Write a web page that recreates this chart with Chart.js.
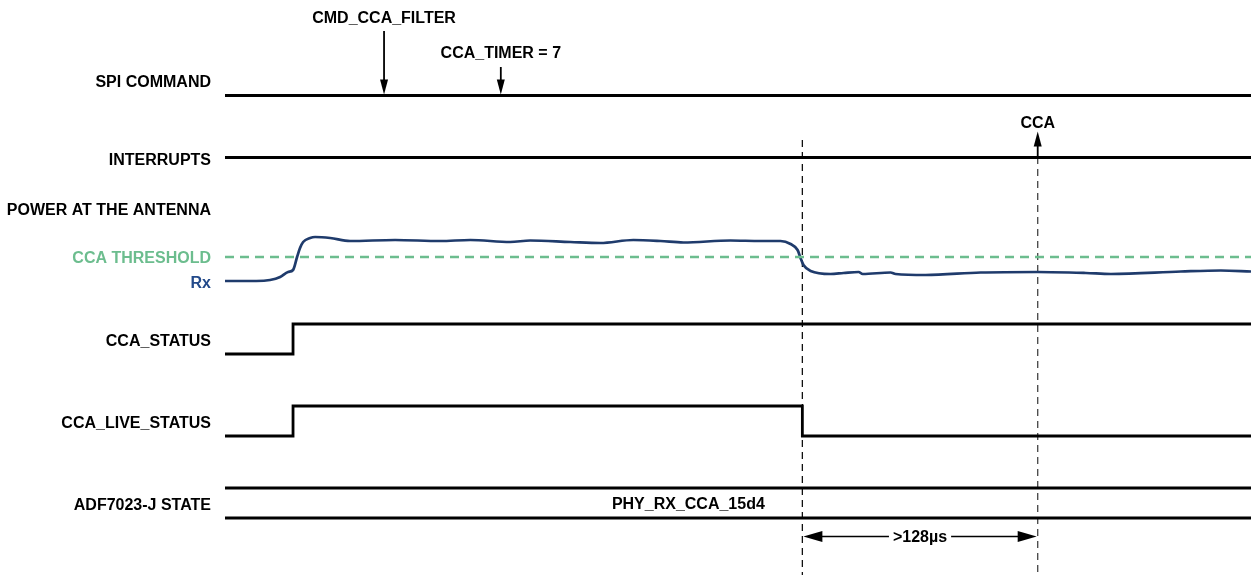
<!DOCTYPE html>
<html>
<head>
<meta charset="utf-8">
<script src="https://cdn.jsdelivr.net/npm/chart.js@4/dist/chart.umd.min.js"></script>
<style>
  html, body { margin: 0; padding: 0; background: #ffffff; }
  #wrap { width: 1251px; height: 575px; }
</style>
</head>
<body>
<div id="wrap"><canvas id="timing" width="1251" height="575"></canvas></div>
<script>
// ---- Signal data (time in µs) ----
const timeSpan = [0, 558];

const rowLabels = ['SPI COMMAND', 'INTERRUPTS', 'POWER AT THE ANTENNA', 'CCA THRESHOLD', 'Rx',
                   'CCA_STATUS', 'CCA_LIVE_STATUS', 'ADF7023-J STATE'];

const spiTimes  = [86.5, 150];
const spiLabels = ['CMD_CCA_FILTER', 'CCA_TIMER = 7'];

const ccaLostTime = 314;      // CCA_LIVE_STATUS falls
const ccaTimeout  = 128;      // µs until the CCA interrupt
const irqTimes  = [ccaLostTime + ccaTimeout];
const irqLabels = ['CCA'];

// received power relative to the CCA threshold (dB)
const rxTimes = [0, 17, 24.5, 30, 34.3, 37, 39.2, 40.8, 42.5, 46.3, 49, 57.2, 68, 92.5, 117,
                 133.4, 155.1, 166, 187.8, 204.1, 222.1, 236.8, 249.3, 274.9, 291.2, 302.1,
                 307.6, 311.4, 313, 314.6, 318.5, 329.3, 336.4, 344.6, 346.8, 362, 364.7, 381,
                 411, 442, 468.2, 481.8, 519.9, 541.6, 558];
const rxPowerDb = [-4.8, -4.8, -4.6, -4.0, -3.0, -2.6, 0, 1.8, 3.0, 3.8, 4.0, 3.8, 3.2, 3.4, 3.2,
                   3.4, 3.0, 3.3, 3.0, 2.8, 3.4, 3.2, 2.9, 3.3, 3.2, 3.2,
                   2.6, 1.4, -0.2, -1.6, -2.8, -3.4, -3.2, -3.0, -3.4, -3.1, -3.4, -3.6,
                   -3.1, -3.0, -3.2, -3.4, -2.9, -2.7, -2.9];
const thresholdDb = 0;

const statusTimes  = [0, 37, 558];
const statusLevels = [0, 1, 1];
const liveTimes    = [0, 37, ccaLostTime, 558];
const liveLevels   = [0, 1, 0, 0];

const stateLabel   = 'PHY_RX_CCA_15d4';
const stateLabelAt = 252;
const timeoutLabel = '>128µs';

// ---- Layout of the lanes (vertical units of the lane axis) ----
const LAYOUT = {
  labelRows: [82.5, 160.5, 210.5, 258.5, 283.5, 341.5, 423.5, 505.5],
  spiLine: 95.5, spiArrowTop: [31, 67], spiTextY: [19, 54],
  irqLine: 157.5, irqArrowTip: 131.5, irqTextY: 124,
  status: { low: 354, high: 324 },
  live:   { low: 436, high: 406 },
  stateTop: 488, stateBottom: 518,
  markerTop: [140, 157], markerBottom: 575,
  timeoutY: 536.5, timeoutTextY: 538
};

const BLACK = '#000000', NAVY = '#1f3b6c', GREEN = '#6cbd8e';
const FONT = "'Liberation Sans', Arial, sans-serif";
const rowColors = ['#000', '#000', '#000', GREEN, '#234a8a', '#000', '#000', '#000'];

const pts = (ts, vs) => ts.map((t, i) => ({ x: t, y: vs[i] }));
const flat = (v) => [{ x: timeSpan[0], y: v }, { x: timeSpan[1], y: v }];
const level = (lane, ts, lv) => ts.map((t, i) => ({ x: t, y: lv[i] ? lane.high : lane.low }));

const sig = { borderColor: BLACK, borderWidth: 2.8, pointRadius: 0, fill: false, yAxisID: 'y' };

const datasets = [
  { ...sig, data: flat(LAYOUT.spiLine) },
  { ...sig, data: flat(LAYOUT.irqLine) },
  { ...sig, data: level(LAYOUT.status, statusTimes, statusLevels), stepped: 'before' },
  { ...sig, data: level(LAYOUT.live, liveTimes, liveLevels), stepped: 'before' },
  { ...sig, data: flat(LAYOUT.stateTop) },
  { ...sig, data: flat(LAYOUT.stateBottom) },
  { borderColor: GREEN, borderWidth: 2.6, borderDash: [9, 6], pointRadius: 0, yAxisID: 'pow',
    data: flat(thresholdDb) },
  { borderColor: NAVY, borderWidth: 2.7, pointRadius: 0, yAxisID: 'pow',
    cubicInterpolationMode: 'monotone', data: pts(rxTimes, rxPowerDb) },
  { borderColor: '#111', borderWidth: 1.3, borderDash: [7, 5], pointRadius: 0, yAxisID: 'y',
    data: [{ x: ccaLostTime, y: LAYOUT.markerTop[0] }, { x: ccaLostTime, y: LAYOUT.markerBottom }] },
  { borderColor: '#444', borderWidth: 1.3, borderDash: [7, 5], pointRadius: 0, yAxisID: 'y',
    data: [{ x: irqTimes[0], y: LAYOUT.markerTop[1] }, { x: irqTimes[0], y: LAYOUT.markerBottom }] }
];

function arrowHead(ctx, tx, ty, dx, dy, len, half) {
  ctx.beginPath();
  ctx.moveTo(tx, ty);
  ctx.lineTo(tx - dx * len - dy * half, ty - dy * len + dx * half);
  ctx.lineTo(tx - dx * len + dy * half, ty - dy * len - dx * half);
  ctx.closePath();
  ctx.fill();
}
function arrow(ctx, x0, y0, x1, y1, len = 15, half = 4) {
  const d = Math.hypot(x1 - x0, y1 - y0), dx = (x1 - x0) / d, dy = (y1 - y0) / d;
  ctx.beginPath();
  ctx.moveTo(x0, y0);
  ctx.lineTo(x1 - dx * (len - 1), y1 - dy * (len - 1));
  ctx.stroke();
  arrowHead(ctx, x1, y1, dx, dy, len, half);
}

const annotations = {
  id: 'annotations',
  afterDatasetsDraw(chart) {
    const { ctx } = chart;
    const x = chart.scales.x, y = chart.scales.y;
    ctx.save();
    ctx.fillStyle = BLACK;
    ctx.strokeStyle = BLACK;
    ctx.lineWidth = 1.8;
    ctx.textAlign = 'center';
    ctx.textBaseline = 'middle';
    ctx.font = 'bold 16px ' + FONT;

    // SPI commands: labelled down arrows onto the SPI line
    spiTimes.forEach((t, i) => {
      const px = x.getPixelForValue(t);
      arrow(ctx, px, y.getPixelForValue(LAYOUT.spiArrowTop[i]), px, y.getPixelForValue(LAYOUT.spiLine - 1));
      ctx.fillText(spiLabels[i], px, y.getPixelForValue(LAYOUT.spiTextY[i]));
    });

    // interrupt: up arrow from the interrupt line
    irqTimes.forEach((t, i) => {
      const px = x.getPixelForValue(t);
      arrow(ctx, px, y.getPixelForValue(LAYOUT.irqLine), px, y.getPixelForValue(LAYOUT.irqArrowTip));
      ctx.fillText(irqLabels[i], px, y.getPixelForValue(LAYOUT.irqTextY));
    });

    // radio state name
    ctx.fillText(stateLabel, x.getPixelForValue(stateLabelAt),
                 (y.getPixelForValue(LAYOUT.stateTop) + y.getPixelForValue(LAYOUT.stateBottom)) / 2 + 1.5);

    // timeout dimension between the two markers
    const xa = x.getPixelForValue(ccaLostTime), xb = x.getPixelForValue(irqTimes[0]);
    const yy = y.getPixelForValue(LAYOUT.timeoutY);
    const w = ctx.measureText(timeoutLabel).width, mid = (xa + xb) / 2;
    ctx.lineWidth = 1.3;
    arrow(ctx, mid - w / 2 - 4, yy, xa + 1, yy, 19, 5.5);
    arrow(ctx, mid + w / 2 + 4, yy, xb - 1, yy, 19, 5.5);
    ctx.fillText(timeoutLabel, mid, y.getPixelForValue(LAYOUT.timeoutTextY));
    ctx.restore();
  }
};

new Chart(document.getElementById('timing'), {
  type: 'line',
  data: { datasets },
  plugins: [annotations],
  options: {
    responsive: false,
    animation: false,
    devicePixelRatio: 1,
    layout: { padding: 0 },
    plugins: { legend: { display: false }, tooltip: { enabled: false } },
    elements: { line: { tension: 0, borderCapStyle: 'butt', borderJoinStyle: 'miter' } },
    scales: {
      x: { type: 'linear', min: timeSpan[0], max: timeSpan[1], display: false },
      y: {
        type: 'linear', min: 0, max: 575, reverse: true, position: 'left',
        grid: { display: false, drawTicks: false }, border: { display: false },
        afterBuildTicks: (s) => { s.ticks = LAYOUT.labelRows.map(v => ({ value: v })); },
        afterFit: (s) => { s.width = 225; s.paddingTop = 0; s.paddingBottom = 0; },
        ticks: {
          autoSkip: false, padding: 14,
          font: { family: FONT, size: 16, weight: 'bold' },
          color: (c) => rowColors[c.index] || '#000',
          callback: (v, i) => rowLabels[i]
        }
      },
      pow: { type: 'linear', min: -63.6, max: 51.4, display: false }
    }
  }
});
</script>
</body>
</html>
